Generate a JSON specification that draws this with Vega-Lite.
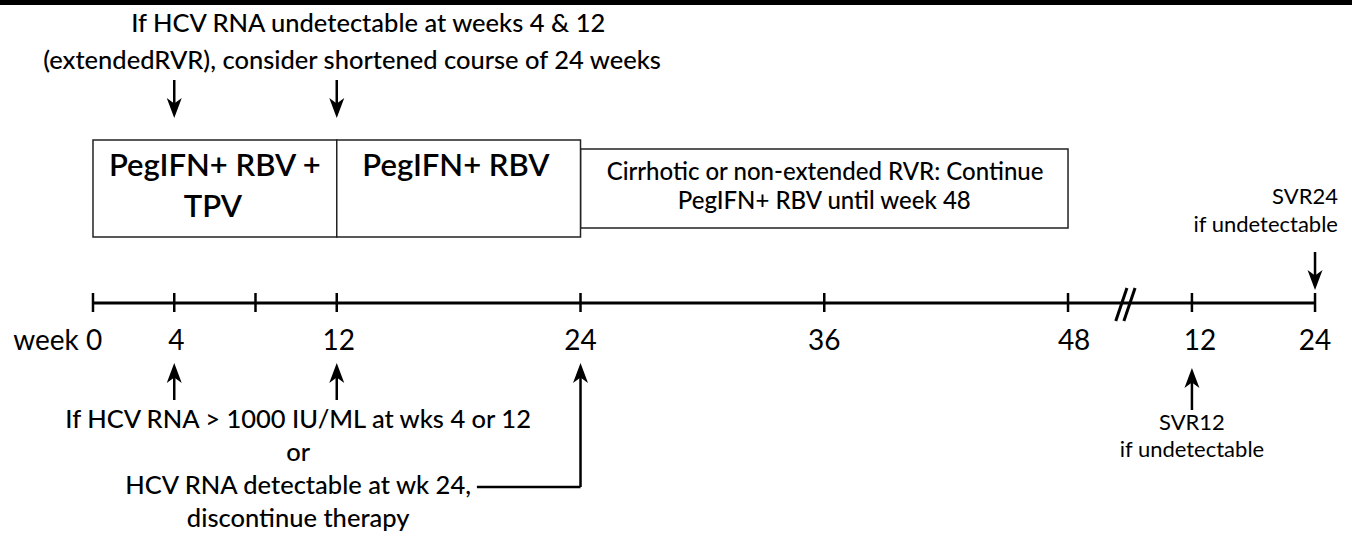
{
  "$schema": "https://vega.github.io/schema/vega-lite/v6.json",
  "width": 1352,
  "height": 541,
  "padding": 0,
  "autosize": {"type": "none"},
  "background": "white",
  "config": {"view": {"stroke": null}},
  "datasets": {
    "bar": [{"x": -4.578, "x2": 61.98, "y": 0, "y2": 5}],
    "boxes": [
      {"name": "extended", "x": 24, "x2": 48, "y": 149, "y2": 228},
      {"name": "triple", "x": 0, "x2": 12, "y": 140, "y2": 237},
      {"name": "dual", "x": 12, "x2": 24, "y": 140, "y2": 237}
    ],
    "segments": [
      {"kind": "axis", "x": 0, "x2": 60.16, "y": 303, "y2": 303},
      {"kind": "axis", "x": 50.35, "x2": 50.9, "y": 321, "y2": 288},
      {"kind": "axis", "x": 50.75, "x2": 51.3, "y": 321, "y2": 288},
      {"kind": "tick", "x": 0, "x2": 0, "y": 293, "y2": 312},
      {"kind": "tick", "x": 4, "x2": 4, "y": 293, "y2": 312},
      {"kind": "tick", "x": 8, "x2": 8, "y": 293, "y2": 312},
      {"kind": "tick", "x": 12, "x2": 12, "y": 293, "y2": 312},
      {"kind": "tick", "x": 24, "x2": 24, "y": 293, "y2": 312},
      {"kind": "tick", "x": 36, "x2": 36, "y": 293, "y2": 312},
      {"kind": "tick", "x": 48, "x2": 48, "y": 293, "y2": 312},
      {"kind": "tick", "x": 54.1, "x2": 54.1, "y": 293, "y2": 312},
      {"kind": "tick", "x": 60.16, "x2": 60.16, "y": 293, "y2": 312},
      {"kind": "stem", "x": 4, "x2": 4, "y": 80, "y2": 110},
      {"kind": "stem", "x": 12, "x2": 12, "y": 80, "y2": 110},
      {"kind": "stem", "x": 4, "x2": 4, "y": 372, "y2": 400},
      {"kind": "stem", "x": 12, "x2": 12, "y": 372, "y2": 400},
      {"kind": "stem", "x": 24, "x2": 24, "y": 372, "y2": 487},
      {"kind": "stem", "x": 18.9, "x2": 24, "y": 487, "y2": 487},
      {"kind": "stem", "x": 54.1, "x2": 54.1, "y": 378, "y2": 410},
      {"kind": "stem", "x": 60.16, "x2": 60.16, "y": 252, "y2": 282}
    ],
    "heads": [
      {"dir": "down", "x": 4, "y": 108},
      {"dir": "down", "x": 12, "y": 108},
      {"dir": "down", "x": 60.16, "y": 280},
      {"dir": "up", "x": 4, "y": 373},
      {"dir": "up", "x": 12, "y": 373},
      {"dir": "up", "x": 24, "y": 373},
      {"dir": "up", "x": 54.1, "y": 378}
    ],
    "notes": [
      {"kind": "main", "text": "If HCV RNA undetectable at weeks 4 & 12", "x": 13.55, "y": 24},
      {"kind": "main", "text": "(extendedRVR), consider shortened course of 24 weeks", "x": 12.75, "y": 61},
      {"kind": "box", "text": "Cirrhotic or non-extended RVR: Continue", "x": 36.04, "y": 173},
      {"kind": "box", "text": "PegIFN+ RBV until week 48", "x": 36.0, "y": 202},
      {"kind": "main", "text": "If HCV RNA > 1000 IU/ML at wks 4 or 12", "x": 10.1, "y": 420},
      {"kind": "main", "text": "or", "x": 10.1, "y": 453},
      {"kind": "main", "text": "HCV RNA detectable at wk 24,", "x": 10.1, "y": 486},
      {"kind": "main", "text": "discontinue therapy", "x": 10.1, "y": 519},
      {"kind": "big", "text": "PegIFN+ RBV +", "x": 6.0, "y": 167},
      {"kind": "big", "text": "TPV", "x": 5.9, "y": 208},
      {"kind": "big", "text": "PegIFN+ RBV", "x": 17.87, "y": 167},
      {"kind": "label", "text": "4", "x": 4.1, "y": 342},
      {"kind": "label", "text": "12", "x": 12.1, "y": 342},
      {"kind": "label", "text": "24", "x": 24, "y": 342},
      {"kind": "label", "text": "36", "x": 36, "y": 342},
      {"kind": "label", "text": "48", "x": 48.3, "y": 342},
      {"kind": "label", "text": "12", "x": 54.5, "y": 342},
      {"kind": "label", "text": "24", "x": 60.16, "y": 342},
      {"kind": "svr", "text": "SVR12", "x": 54.1, "y": 423},
      {"kind": "svr", "text": "if undetectable", "x": 54.1, "y": 450}
    ],
    "rightnotes": [
      {"kind": "label", "text": "week 0", "x": 0.45, "y": 342},
      {"kind": "svr", "text": "SVR24", "x": 61.29, "y": 197},
      {"kind": "svr", "text": "if undetectable", "x": 61.29, "y": 225}
    ]
  },
  "layer": [
    {
      "data": {"name": "bar"},
      "mark": {"type": "rect", "color": "black"},
      "encoding": {
        "x": {"field": "x", "type": "quantitative", "scale": {"domain": [-4.578, 61.98], "nice": false, "zero": false}, "axis": null},
        "x2": {"field": "x2"},
        "y": {"field": "y", "type": "quantitative", "scale": {"domain": [0, 541], "reverse": true, "nice": false, "zero": false}, "axis": null},
        "y2": {"field": "y2"}
      }
    },
    {
      "data": {"name": "boxes"},
      "mark": {"type": "rect", "fill": "white", "stroke": "#222222", "strokeWidth": 1.5},
      "encoding": {
        "x": {"field": "x", "type": "quantitative", "scale": {"domain": [-4.578, 61.98], "nice": false, "zero": false}, "axis": null},
        "x2": {"field": "x2"},
        "y": {"field": "y", "type": "quantitative", "scale": {"domain": [0, 541], "reverse": true, "nice": false, "zero": false}, "axis": null},
        "y2": {"field": "y2"}
      }
    },
    {
      "data": {"name": "segments"},
      "transform": [{"filter": "datum.kind === 'axis'"}],
      "mark": {"type": "rule", "color": "black", "strokeWidth": 3},
      "encoding": {
        "x": {"field": "x", "type": "quantitative", "scale": {"domain": [-4.578, 61.98], "nice": false, "zero": false}, "axis": null},
        "x2": {"field": "x2"},
        "y": {"field": "y", "type": "quantitative", "scale": {"domain": [0, 541], "reverse": true, "nice": false, "zero": false}, "axis": null},
        "y2": {"field": "y2"}
      }
    },
    {
      "data": {"name": "segments"},
      "transform": [{"filter": "datum.kind !== 'axis'"}],
      "mark": {"type": "rule", "color": "black", "strokeWidth": 2.5},
      "encoding": {
        "x": {"field": "x", "type": "quantitative", "scale": {"domain": [-4.578, 61.98], "nice": false, "zero": false}, "axis": null},
        "x2": {"field": "x2"},
        "y": {"field": "y", "type": "quantitative", "scale": {"domain": [0, 541], "reverse": true, "nice": false, "zero": false}, "axis": null},
        "y2": {"field": "y2"}
      }
    },
    {
      "data": {"name": "heads"},
      "transform": [{"filter": "datum.dir === 'down'"}],
      "mark": {"type": "point", "shape": "M0,1 L-0.75,-1 L0,-0.45 L0.75,-1 Z", "size": 400, "filled": true, "color": "black", "opacity": 1},
      "encoding": {
        "x": {"field": "x", "type": "quantitative", "scale": {"domain": [-4.578, 61.98], "nice": false, "zero": false}, "axis": null},
        "y": {"field": "y", "type": "quantitative", "scale": {"domain": [0, 541], "reverse": true, "nice": false, "zero": false}, "axis": null}
      }
    },
    {
      "data": {"name": "heads"},
      "transform": [{"filter": "datum.dir === 'up'"}],
      "mark": {"type": "point", "shape": "M0,-1 L-0.75,1 L0,0.45 L0.75,1 Z", "size": 400, "filled": true, "color": "black", "opacity": 1},
      "encoding": {
        "x": {"field": "x", "type": "quantitative", "scale": {"domain": [-4.578, 61.98], "nice": false, "zero": false}, "axis": null},
        "y": {"field": "y", "type": "quantitative", "scale": {"domain": [0, 541], "reverse": true, "nice": false, "zero": false}, "axis": null}
      }
    },
    {
      "data": {"name": "notes"},
      "transform": [{"filter": "datum.kind === 'main'"}],
      "mark": {"type": "text", "font": "Lato", "fontSize": 25.5, "fontWeight": 500, "color": "black", "align": "center", "baseline": "middle"},
      "encoding": {
        "x": {"field": "x", "type": "quantitative", "scale": {"domain": [-4.578, 61.98], "nice": false, "zero": false}, "axis": null},
        "y": {"field": "y", "type": "quantitative", "scale": {"domain": [0, 541], "reverse": true, "nice": false, "zero": false}, "axis": null},
        "text": {"field": "text"}
      }
    },
    {
      "data": {"name": "notes"},
      "transform": [{"filter": "datum.kind === 'box'"}],
      "mark": {"type": "text", "font": "Lato", "fontSize": 24, "fontWeight": 500, "color": "black", "align": "center", "baseline": "middle"},
      "encoding": {
        "x": {"field": "x", "type": "quantitative", "scale": {"domain": [-4.578, 61.98], "nice": false, "zero": false}, "axis": null},
        "y": {"field": "y", "type": "quantitative", "scale": {"domain": [0, 541], "reverse": true, "nice": false, "zero": false}, "axis": null},
        "text": {"field": "text"}
      }
    },
    {
      "data": {"name": "notes"},
      "transform": [{"filter": "datum.kind === 'big'"}],
      "mark": {"type": "text", "font": "Lato", "fontSize": 31, "fontWeight": 600, "color": "black", "align": "center", "baseline": "middle"},
      "encoding": {
        "x": {"field": "x", "type": "quantitative", "scale": {"domain": [-4.578, 61.98], "nice": false, "zero": false}, "axis": null},
        "y": {"field": "y", "type": "quantitative", "scale": {"domain": [0, 541], "reverse": true, "nice": false, "zero": false}, "axis": null},
        "text": {"field": "text"}
      }
    },
    {
      "data": {"name": "notes"},
      "transform": [{"filter": "datum.kind === 'label'"}],
      "mark": {"type": "text", "font": "Lato", "fontSize": 28, "color": "black", "align": "center", "baseline": "middle"},
      "encoding": {
        "x": {"field": "x", "type": "quantitative", "scale": {"domain": [-4.578, 61.98], "nice": false, "zero": false}, "axis": null},
        "y": {"field": "y", "type": "quantitative", "scale": {"domain": [0, 541], "reverse": true, "nice": false, "zero": false}, "axis": null},
        "text": {"field": "text"}
      }
    },
    {
      "data": {"name": "notes"},
      "transform": [{"filter": "datum.kind === 'svr'"}],
      "mark": {"type": "text", "font": "Lato", "fontSize": 22, "color": "black", "align": "center", "baseline": "middle"},
      "encoding": {
        "x": {"field": "x", "type": "quantitative", "scale": {"domain": [-4.578, 61.98], "nice": false, "zero": false}, "axis": null},
        "y": {"field": "y", "type": "quantitative", "scale": {"domain": [0, 541], "reverse": true, "nice": false, "zero": false}, "axis": null},
        "text": {"field": "text"}
      }
    },
    {
      "data": {"name": "rightnotes"},
      "transform": [{"filter": "datum.kind === 'label'"}],
      "mark": {"type": "text", "font": "Lato", "fontSize": 28, "color": "black", "align": "right", "baseline": "middle"},
      "encoding": {
        "x": {"field": "x", "type": "quantitative", "scale": {"domain": [-4.578, 61.98], "nice": false, "zero": false}, "axis": null},
        "y": {"field": "y", "type": "quantitative", "scale": {"domain": [0, 541], "reverse": true, "nice": false, "zero": false}, "axis": null},
        "text": {"field": "text"}
      }
    },
    {
      "data": {"name": "rightnotes"},
      "transform": [{"filter": "datum.kind === 'svr'"}],
      "mark": {"type": "text", "font": "Lato", "fontSize": 22, "color": "black", "align": "right", "baseline": "middle"},
      "encoding": {
        "x": {"field": "x", "type": "quantitative", "scale": {"domain": [-4.578, 61.98], "nice": false, "zero": false}, "axis": null},
        "y": {"field": "y", "type": "quantitative", "scale": {"domain": [0, 541], "reverse": true, "nice": false, "zero": false}, "axis": null},
        "text": {"field": "text"}
      }
    }
  ]
}
